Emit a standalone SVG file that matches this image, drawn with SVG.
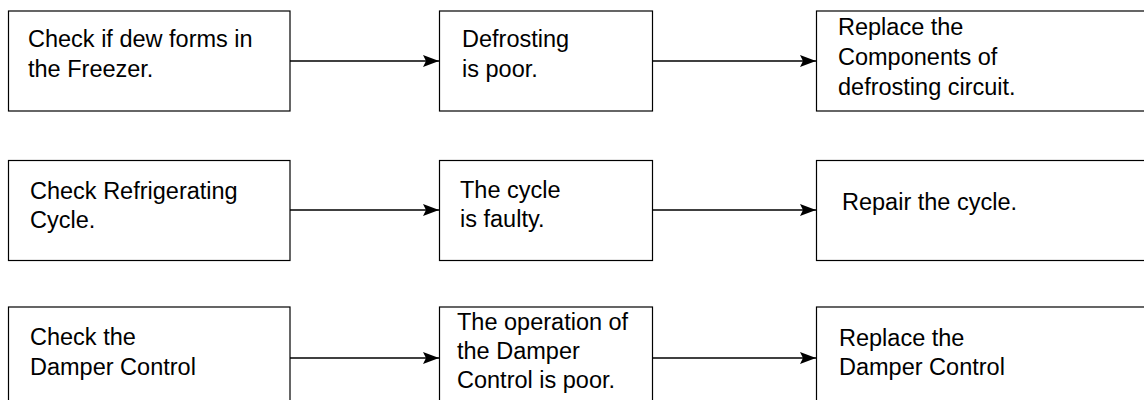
<svg xmlns="http://www.w3.org/2000/svg" width="1144" height="400" viewBox="0 0 1144 400">
<defs>
<marker id="ah" markerWidth="16" markerHeight="12" refX="16" refY="6" orient="auto" markerUnits="userSpaceOnUse">
<path d="M0,0 L16,6 L0,12 L3,6 Z" fill="#000"/>
</marker>
</defs>
<style>
.box{fill:#fff;stroke:#000;stroke-width:1.2}
.t{font-family:"Liberation Sans",Arial,sans-serif;font-size:23.5px;fill:#000}
.c{stroke:#000;stroke-width:1.4;fill:none}
</style>
<rect width="1144" height="400" fill="#fff"/>
<g id="connectors">
<line class="c" x1="290" y1="61" x2="439" y2="61" marker-end="url(#ah)"/>
<line class="c" x1="653" y1="61" x2="816" y2="61" marker-end="url(#ah)"/>
<line class="c" x1="290" y1="210" x2="439" y2="210" marker-end="url(#ah)"/>
<line class="c" x1="653" y1="210" x2="816" y2="210" marker-end="url(#ah)"/>
<line class="c" x1="290" y1="358" x2="439" y2="358" marker-end="url(#ah)"/>
<line class="c" x1="653" y1="358" x2="816" y2="358" marker-end="url(#ah)"/>
</g>
<g id="n1"><rect class="box" x="8.5" y="11" width="281.5" height="100"/>
<text class="t" x="28" y="47">Check if dew forms in</text><text class="t" x="28" y="77">the Freezer.</text></g>
<g id="n2"><rect class="box" x="439.5" y="11" width="213" height="100"/>
<text class="t" x="462" y="47">Defrosting</text><text class="t" x="462" y="77">is poor.</text></g>
<g id="n3"><rect class="box" x="816.5" y="11" width="340" height="100"/>
<text class="t" x="838" y="35">Replace the</text><text class="t" x="838" y="65">Components of</text><text class="t" x="838" y="95">defrosting circuit.</text></g>
<g id="n4"><rect class="box" x="8.5" y="160.5" width="281.5" height="100"/>
<text class="t" x="30" y="199">Check Refrigerating</text><text class="t" x="30" y="228">Cycle.</text></g>
<g id="n5"><rect class="box" x="439.5" y="160.5" width="213" height="100"/>
<text class="t" x="460" y="198">The cycle</text><text class="t" x="460" y="227">is faulty.</text></g>
<g id="n6"><rect class="box" x="816.5" y="160.5" width="340" height="100"/>
<text class="t" x="842" y="210">Repair the cycle.</text></g>
<g id="n7"><rect class="box" x="8.5" y="307" width="281.5" height="100"/>
<text class="t" x="30" y="345">Check the</text><text class="t" x="30" y="375">Damper Control</text></g>
<g id="n8"><rect class="box" x="439.5" y="307" width="213" height="100"/>
<text class="t" x="457" y="330">The operation of</text><text class="t" x="457" y="359">the Damper</text><text class="t" x="457" y="388">Control is poor.</text></g>
<g id="n9"><rect class="box" x="816.5" y="307" width="340" height="100"/>
<text class="t" x="839" y="346">Replace the</text><text class="t" x="839" y="375">Damper Control</text></g>
</svg>
